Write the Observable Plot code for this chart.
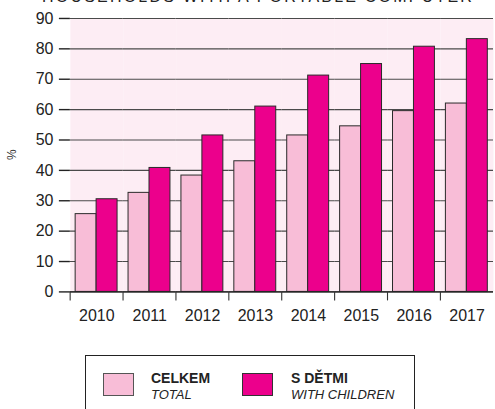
<!DOCTYPE html>
<html>
<head>
<meta charset="utf-8">
<script src="https://cdn.jsdelivr.net/npm/d3@7"></script>
<script src="https://cdn.jsdelivr.net/npm/@observablehq/plot@0.6"></script>
<style>
  html, body { margin: 0; padding: 0; background: #fff; width: 495px; height: 409px; overflow: hidden; position: relative; font-family: "Liberation Sans", Arial, sans-serif; color: #222; }
  #title { position: absolute; left: 0; width: 516px; top: -11px; text-align: center; font-size: 16px; line-height: 16px; letter-spacing: 2.2px; white-space: nowrap; }
  #chart { position: absolute; left: 0; top: 0; }
  #legend { position: absolute; left: 85px; top: 355px; width: 330px; height: 80px; border: 1.3px solid #222; box-sizing: border-box; }
  .sw { position: absolute; width: 31px; height: 23px; border: 1px solid #555; box-sizing: border-box; }
  .lt { position: absolute; font-size: 14px; line-height: 16px; }
  .lt b { font-weight: bold; }
  .lt i { font-size: 13px; }
</style>
</head>
<body>
<div id="title"></div>
<div id="chart"></div>
<div id="legend"></div>
<script>
const title = "HOUSEHOLDS WITH A PORTABLE COMPUTER";
const yLabel = "%";
const years = ["2010", "2011", "2012", "2013", "2014", "2015", "2016", "2017"];
const seriesKeys = ["total", "children"];
const seriesNamesCz = ["CELKEM", "S DĚTMI"];
const seriesNamesEn = ["TOTAL", "WITH CHILDREN"];
const seriesColors = ["#f8bdd7", "#ec008c"];
const totalValues = [25.6, 32.6, 38.3, 43.0, 51.5, 54.5, 59.5, 62.0];
const childrenValues = [30.5, 40.8, 51.5, 61.0, 71.2, 75.0, 80.7, 83.2];
const yTicks = [0, 10, 20, 30, 40, 50, 60, 70, 80, 90];

document.getElementById("title").textContent = title;

const data = [];
years.forEach((yr, i) => {
  data.push({year: yr, series: seriesKeys[0], value: totalValues[i]});
  data.push({year: yr, series: seriesKeys[1], value: childrenValues[i]});
});

const W = 496, ML = 68.7;
const step = (W - ML) / years.length;

const chart = Plot.plot({
  width: W,
  height: 340,
  marginLeft: ML,
  marginRight: 0,
  marginTop: 18,
  marginBottom: 48,
  style: {fontFamily: "Liberation Sans, Arial, sans-serif", fontSize: "16px", color: "#222", background: "transparent"},
  fx: {domain: years, padding: 0, axis: null},
  x: {domain: seriesKeys, paddingInner: 0, paddingOuter: 0.225, axis: null},
  y: {domain: [0, 90], axis: null},
  color: {domain: seriesKeys, range: seriesColors},
  marks: [
    Plot.frame({fill: "#fdedf4", stroke: null}),
    Plot.gridY(yTicks, {stroke: "#4a4a4a", strokeOpacity: 1, strokeWidth: 1.1}),
    Plot.barY(data, {fx: "year", x: "series", y: "value", fill: "series", stroke: "#2a2a2a", strokeWidth: 1}),
    Plot.ruleY([0], {stroke: "#222", strokeWidth: 1.4}),
    Plot.axisY({ticks: yTicks, tickSize: 11, tickPadding: 6, line: true, stroke: "#222", strokeWidth: 1.4, label: null, fontSize: 16, fill: "#222"}),
    Plot.axisFx({anchor: "bottom", tickSize: 9, tickFormat: () => "", dx: -step / 2, stroke: "#333", strokeWidth: 1.1, label: null}),
    Plot.axisFx({anchor: "bottom", tickSize: 0, tickPadding: 18, label: null, fontSize: 16, fill: "#222", style: {letterSpacing: "0.6px"}})
  ]
});
document.getElementById("chart").appendChild(chart);

// y label
const svg = d3.select(chart);
svg.append("text")
  .attr("transform", "translate(16,155) rotate(-90)")
  .attr("text-anchor", "middle")
  .attr("font-size", 12)
  .attr("fill", "#333")
  .text(yLabel);

// legend
const legend = document.getElementById("legend");
const swX = [17, 156];
const txX = [65, 205];
seriesKeys.forEach((k, i) => {
  const sw = document.createElement("div");
  sw.className = "sw";
  sw.style.left = swX[i] + "px";
  sw.style.top = (17 - i * 0.5) + "px";
  sw.style.background = seriesColors[i];
  if (i === 1) sw.style.borderColor = "#333";
  legend.appendChild(sw);
  const t = document.createElement("div");
  t.className = "lt";
  t.style.left = txX[i] + "px";
  t.style.top = "14px";
  t.innerHTML = "<b></b><br><i></i>";
  t.querySelector("b").textContent = seriesNamesCz[i];
  t.querySelector("i").textContent = seriesNamesEn[i];
  legend.appendChild(t);
});
</script>
</body>
</html>
